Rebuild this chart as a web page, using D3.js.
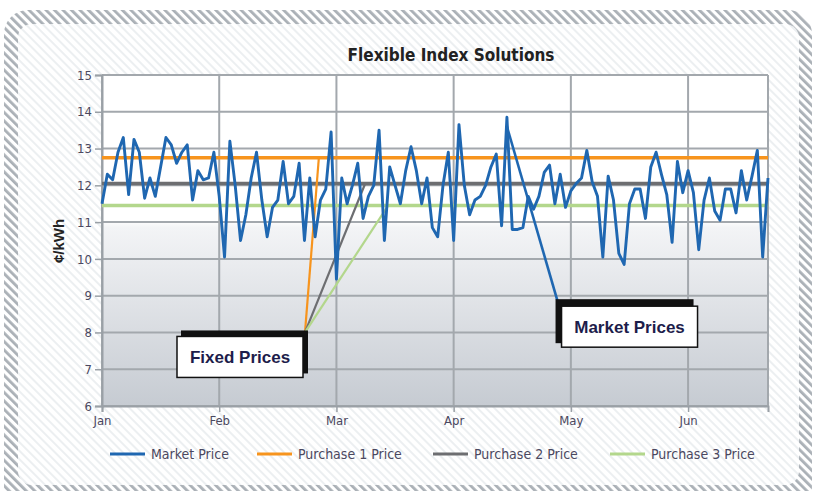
<!DOCTYPE html>
<html>
<head>
<meta charset="utf-8">
<script src="https://cdn.jsdelivr.net/npm/d3@7"></script>
<style>
  body { margin: 0; background: #fff; }
  svg { display: block; }
  .narrow { font-family: "Liberation Sans Narrow", "DejaVu Sans Condensed", "Arial Narrow", sans-serif; }
</style>
</head>
<body>
<script>
// month labels on the x axis, one market point per trading day (22 a month)
var months = ["Jan", "Feb", "Mar", "Apr", "May", "Jun"];
var perMonth = 22;
var yTicks = [6, 7, 8, 9, 10, 11, 12, 13, 14, 15];

// market price, cents/kWh
var marketPrice = [
  11.5, 12.3, 12.15, 12.9, 13.3, 11.75, 13.25, 12.9, 11.65, 12.2, 11.7,
  12.5, 13.3, 13.1, 12.6, 12.9, 13.1, 11.6, 12.4, 12.15, 12.2, 12.9,
  11.7, 10.05, 13.2, 12.0, 10.5, 11.2, 12.2, 12.9, 11.6, 10.6, 11.4,
  11.6, 12.65, 11.5, 11.7, 12.6, 10.5, 12.2, 10.6, 11.6, 11.9, 13.45,
  9.45, 12.2, 11.5, 12.0, 12.6, 11.1, 11.7, 12.0, 13.5, 10.5, 12.5,
  12.0, 11.5, 12.4, 13.05, 12.4, 11.5, 12.2, 10.85, 10.6, 12.0, 12.9,
  10.5, 13.65, 12.0, 11.2, 11.6, 11.7, 12.0, 12.5, 12.85, 10.9, 13.85,
  10.8, 10.8, 10.85, 11.7, 11.35, 11.7, 12.35, 12.55, 11.5, 12.3, 11.4,
  11.85, 12.05, 12.2, 12.95, 12.1, 11.7, 10.05, 12.25, 11.6, 10.15, 9.85,
  11.5, 11.9, 11.9, 11.1, 12.5, 12.9, 12.3, 11.75, 10.45, 12.65, 11.8,
  12.4, 11.8, 10.25, 11.6, 12.2, 11.3, 11.05, 11.9, 11.9, 11.25, 12.4,
  11.6, 12.25, 12.95, 10.05, 12.2
];

// fixed purchase prices and the day index where each purchase line meets it
var purchaseNames = ["Purchase 1 Price", "Purchase 2 Price", "Purchase 3 Price"];
var purchasePrice = [12.75, 12.05, 11.45];
var purchaseDay = [40.7, 49.4, 53.7];

// callout anchors [day index, price]
var fixedAnchor = [38.1, 8.0];
var marketFrom = [76, 13.6];
var marketAnchor = [85.5, 8.85];

var colors = { market: "#1f67b1", p: ["#f7941d", "#6d6e71", "#b3d78c"] };

var W = 813, H = 491;
var svg = d3.select("body").append("svg").attr("width", W).attr("height", H);
var defs = svg.append("defs");

// diagonal stripes for the frame
function stripes(id, bg, fg, w) {
  var p = defs.append("pattern").attr("id", id)
    .attr("patternUnits", "userSpaceOnUse").attr("width", 6).attr("height", 6)
    .attr("patternTransform", "rotate(-45)");
  p.append("rect").attr("width", 6).attr("height", 6).attr("fill", bg);
  p.append("rect").attr("width", w).attr("height", 6).attr("fill", fg);
}
stripes("frameStripes", "#ffffff", "#aab0b6", 2.8);
stripes("panelStripes", "#ffffff", "#eceff1", 2);

var plotGrad = defs.append("linearGradient").attr("id", "plotGrad")
  .attr("x1", 0).attr("y1", 0).attr("x2", 0).attr("y2", 1);
plotGrad.append("stop").attr("offset", "0%").attr("stop-color", "#ffffff");
plotGrad.append("stop").attr("offset", "44%").attr("stop-color", "#ffffff");
plotGrad.append("stop").attr("offset", "46%").attr("stop-color", "#f3f4f6");
plotGrad.append("stop").attr("offset", "100%").attr("stop-color", "#c6cbd2");

svg.append("rect").attr("x", 4).attr("y", 10).attr("width", 808).attr("height", 500)
  .attr("rx", 24).attr("fill", "url(#frameStripes)");
svg.append("rect").attr("x", 18).attr("y", 24).attr("width", 781).attr("height", 461)
  .attr("rx", 14).attr("fill", "url(#panelStripes)");

var x = d3.scaleLinear().domain([0, marketPrice.length - 1]).range([102, 768]);
var y = d3.scaleLinear().domain([6, 15]).range([406, 75]);

// plot area
svg.append("rect").attr("x", x.range()[0]).attr("y", y(15))
  .attr("width", x.range()[1] - x.range()[0]).attr("height", y(6) - y(15))
  .attr("fill", "url(#plotGrad)");

var monthTicks = months.map(function (m, i) { return i * perMonth; });

// grid
var grid = svg.append("g").attr("stroke", "#a3a8ad").attr("stroke-width", 2);
grid.selectAll(".hg").data(yTicks).enter().append("line")
  .attr("x1", x.range()[0]).attr("x2", x.range()[1])
  .attr("y1", function (d) { return y(d); }).attr("y2", function (d) { return y(d); });
grid.selectAll(".vg").data(monthTicks.concat([marketPrice.length - 1])).enter().append("line")
  .attr("x1", function (d) { return x(d); }).attr("x2", function (d) { return x(d); })
  .attr("y1", y(15)).attr("y2", y(6));

// axes
var yAxis = svg.append("g").attr("class", "narrow")
  .attr("transform", "translate(" + x.range()[0] + ",0)")
  .call(d3.axisLeft(y).tickValues(yTicks).tickSize(7).tickPadding(3));
var xAxis = svg.append("g").attr("class", "narrow")
  .attr("transform", "translate(0," + y(6) + ")")
  .call(d3.axisBottom(x).tickValues(monthTicks).tickSize(6).tickPadding(4)
    .tickFormat(function (d, i) { return months[i]; }));
[yAxis, xAxis].forEach(function (a) {
  a.select(".domain").attr("stroke", "#9aa0a6").attr("stroke-width", 2);
  a.selectAll(".tick line").attr("stroke", "#9aa0a6").attr("stroke-width", 1.5);
  a.selectAll(".tick text").attr("fill", "#4b4860").style("font-size", "13px");
});

// fixed purchase price lines
var pl = svg.append("g").attr("fill", "none");
purchasePrice.forEach(function (p, k) {
  pl.append("line").attr("x1", x.range()[0]).attr("x2", x.range()[1])
    .attr("y1", y(p)).attr("y2", y(p))
    .attr("stroke", colors.p[k]).attr("stroke-width", 3.5);
});

// market price
var line = d3.line().x(function (d, i) { return x(i); }).y(function (d) { return y(d); });
svg.append("path").datum(marketPrice).attr("d", line)
  .attr("fill", "none").attr("stroke", colors.market).attr("stroke-width", 2.9)
  .attr("stroke-linejoin", "round");

// callout pointers
purchasePrice.forEach(function (p, k) {
  pl.append("line")
    .attr("x1", x(fixedAnchor[0])).attr("y1", y(fixedAnchor[1]))
    .attr("x2", x(purchaseDay[k])).attr("y2", y(p))
    .attr("stroke", colors.p[k]).attr("stroke-width", 2.2);
});
svg.append("line")
  .attr("x1", x(marketFrom[0])).attr("y1", y(marketFrom[1]))
  .attr("x2", x(marketAnchor[0])).attr("y2", y(marketAnchor[1]))
  .attr("stroke", colors.market).attr("stroke-width", 2.6);

function callout(ax, ay, black, white, label) {
  var g = svg.append("g").attr("transform", "translate(" + ax + "," + ay + ")");
  g.append("rect").attr("x", black[0]).attr("y", black[1]).attr("width", black[2]).attr("height", black[3])
    .attr("fill", "#111");
  g.append("rect").attr("x", white[0]).attr("y", white[1]).attr("width", white[2]).attr("height", white[3])
    .attr("fill", "#fff").attr("stroke", "#111").attr("stroke-width", 1.5);
  g.append("text").attr("x", white[0] + white[2] / 2).attr("y", white[1] + white[3] / 2 + 6)
    .attr("text-anchor", "middle").attr("fill", "#1d1d4b")
    .style("font-family", "'Liberation Sans', Arial, sans-serif")
    .style("font-weight", "bold").style("font-size", "17px").text(label);
}
callout(x(fixedAnchor[0]), y(fixedAnchor[1]), [-124, -2, 127, 43], [-128, 4, 126, 41], "Fixed Prices");
callout(x(marketAnchor[0]), y(marketAnchor[1]), [-2, -2, 138, 44], [4, 5, 136, 41], "Market Prices");

// title and y label
svg.append("text").attr("class", "narrow").attr("x", 451).attr("y", 61)
  .attr("text-anchor", "middle").attr("fill", "#222")
  .style("font-weight", "bold").style("font-size", "17px").text("Flexible Index Solutions");
svg.append("text").attr("transform", "translate(64,241) rotate(-90)")
  .attr("text-anchor", "middle").attr("fill", "#222")
  .style("font-family", "'Liberation Sans', Arial, sans-serif")
  .style("font-weight", "bold").style("font-size", "15px").text("¢/kWh");

// legend
var legendNames = ["Market Price"].concat(purchaseNames);
var legendColors = [colors.market].concat(colors.p);
var legendX = [110, 257, 433, 610];
var lg = svg.append("g").attr("class", "narrow");
legendNames.forEach(function (n, k) {
  lg.append("line").attr("x1", legendX[k]).attr("x2", legendX[k] + 35)
    .attr("y1", 454).attr("y2", 454).attr("stroke", legendColors[k]).attr("stroke-width", 3);
  lg.append("text").attr("x", legendX[k] + 41).attr("y", 459)
    .attr("fill", "#4b4860").style("font-size", "14px").text(n);
});
</script>
</body>
</html>
